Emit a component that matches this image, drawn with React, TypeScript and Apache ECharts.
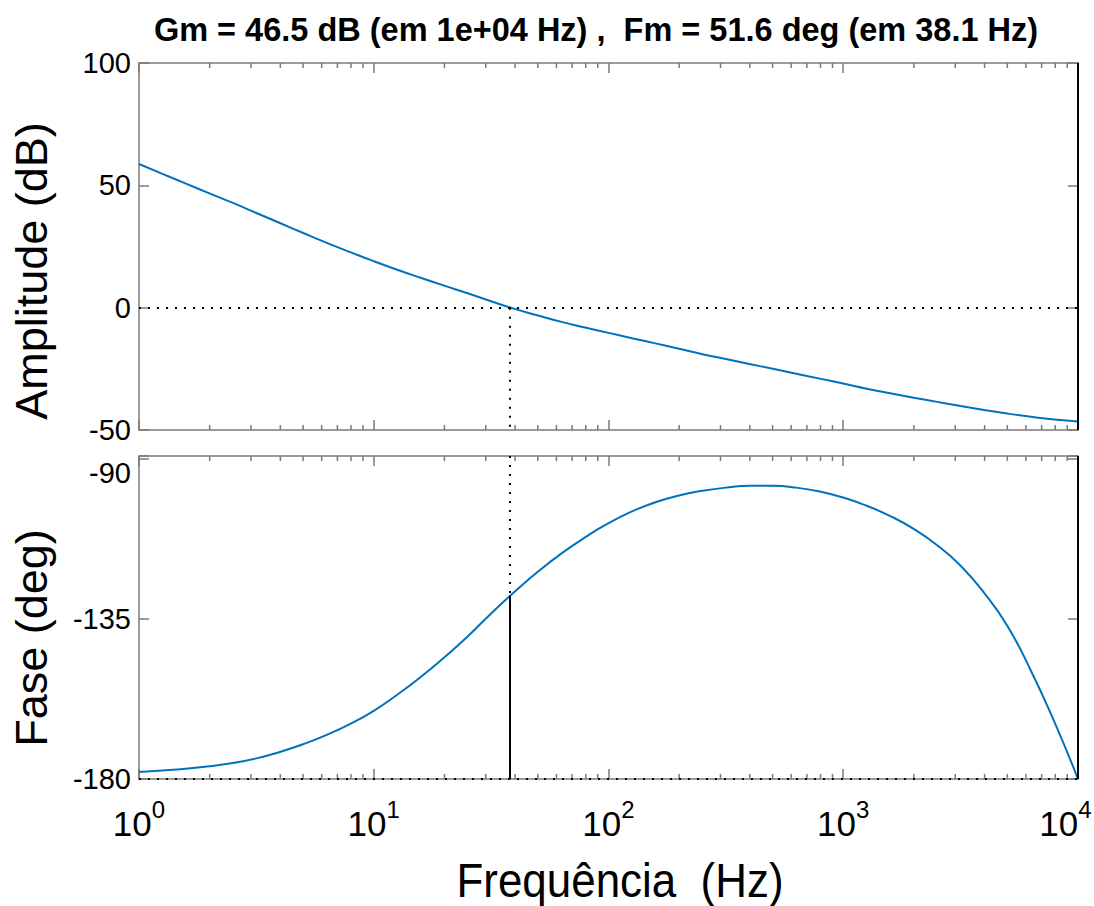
import React, { useEffect, useRef } from "react";
import * as echarts from "echarts";

// Frequency grid as log10(Hz)
const freqExp = [0, 0.1, 0.2, 0.3, 0.4, 0.5, 0.6, 0.7, 0.8, 0.9, 1.0, 1.1, 1.2, 1.3, 1.4, 1.5, 1.6, 1.7, 1.8, 1.9, 2.0, 2.1, 2.2, 2.3, 2.4, 2.5, 2.6, 2.7, 2.8, 2.9, 3.0, 3.1, 3.2, 3.3, 3.4, 3.5, 3.6, 3.7, 3.8, 3.9, 4.0];
// Magnitude (dB)
const magDb = [58.7, 54.7, 50.7, 46.7, 42.8, 38.7, 34.6, 30.5, 26.5, 22.7, 19.0, 15.5, 12.2, 9.0, 5.9, 2.6, -0.5, -3.2, -5.8, -8.1, -10.3, -12.5, -14.6, -16.8, -19.0, -21.0, -23.0, -25.0, -27.0, -29.0, -31.0, -33.1, -35.0, -36.8, -38.5, -40.2, -41.8, -43.3, -44.6, -45.7, -46.5];
// Phase (deg)
const phaseDeg = [-178.0, -177.6, -177.1, -176.4, -175.5, -174.2, -172.4, -170.2, -167.6, -164.5, -160.8, -156.3, -151.3, -145.8, -139.9, -133.4, -127.3, -121.6, -116.5, -112.0, -108.0, -104.7, -102.1, -100.2, -98.9, -98.0, -97.5, -97.5, -98.0, -99.1, -100.8, -103.1, -106.0, -109.6, -114.2, -120.0, -127.6, -137.0, -149.6, -164.0, -180.0];

// Margins
const gmDb = 46.5;
const gmFreq = 1e4;
const pmDeg = 51.6;
const pmFreq = 38.1;

// Axes
const freqMin = 1;
const freqMax = 1e4;
const magMin = -50;
const magMax = 100;
const magStep = 50;
const phaseMin = -180;
const phaseMax = -89.1;
const phaseStep = 45;
const minorFreqs: number[] = [];
[1, 10, 100, 1000].forEach((d) => {
  for (let k = 2; k <= 9; k++) minorFreqs.push(k * d);
});

const titleText = `Gm = ${gmDb} dB (em 1e+04 Hz) ,  Fm = ${pmDeg} deg (em ${pmFreq} Hz)`;

const BLUE = "#0072BD";
const AXIS = "#7a7a7a";
const FONT = "'Liberation Sans', Arial, sans-serif";

export default function App() {
  const ref = useRef<HTMLDivElement>(null);
  useEffect(() => {
    if (!ref.current) return;
    const chart = echarts.init(ref.current, null, { renderer: "svg" });
    const freqs = freqExp.map((e) => Math.pow(10, e));
    const magData = freqs.map((f, i) => [f, magDb[i]]);
    const phaseData = freqs.map((f, i) => [f, phaseDeg[i]]);
    const pmPhase = -180 + pmDeg;

    const grids = [
      { left: 139, top: 63, width: 939, height: 367, outerBoundsMode: "none", containLabel: false },
      { left: 139, top: 456, width: 939, height: 323, outerBoundsMode: "none", containLabel: false },
    ];

    const xBase = (gridIndex: number, position: string, showLabel: boolean) => ({
      type: "log",
      logBase: 10,
      gridIndex,
      position,
      min: freqMin,
      max: freqMax,
      axisLine: { show: true, onZero: false, lineStyle: { color: AXIS, width: 1.5 } },
      axisTick: { show: true, inside: true, length: 10, lineStyle: { color: AXIS, width: 1.5 } },
      splitLine: { show: false },
      axisLabel: showLabel
        ? {
            show: true,
            margin: 18,
            hideOverlap: false,
            formatter: (v: number) => {
              const e = Math.round(Math.log10(v));
              // last label kept inside the page, as in the reference
              return v >= freqMax ? `{pad|}{b|10}{s|${e}}` : `{b|10}{s|${e}}`;
            },
            rich: {
              b: { fontSize: 35, fontFamily: FONT, color: "#000", verticalAlign: "bottom", lineHeight: 44 },
              s: { fontSize: 24, fontFamily: FONT, color: "#000", verticalAlign: "top", lineHeight: 44 },
              pad: { width: 0, padding: [0, 0, 0, 0] },
            },
          }
        : { show: false },
    });

    const yBase = (gridIndex: number, position: string, min: number, max: number, interval: number, showLabel: boolean) => ({
      type: "value",
      gridIndex,
      position,
      min,
      max,
      interval,
      axisLine: { show: true, onZero: false, lineStyle: { color: AXIS, width: 1.5 } },
      axisTick: { show: true, inside: true, length: 10, lineStyle: { color: AXIS, width: 1.5 } },
      splitLine: { show: false },
      axisLabel: showLabel
        ? {
            show: true,
            margin: 8,
            fontSize: 29,
            fontFamily: FONT,
            color: "#000",
            showMaxLabel: true,
            formatter: (v: number) => {
              if (Math.abs(v / interval - Math.round(v / interval)) > 1e-6) return "";
              // MATLAB draws the top phase label slightly below its tick
              if (max - v < interval / 2 && max % interval !== 0) return `{low|${v}}`;
              return String(v);
            },
            rich: {
              low: { fontSize: 29, fontFamily: FONT, color: "#000", padding: [28, 0, 0, 0] },
            },
          }
        : { show: false },
    });

    const dotted = { color: "#000", width: 2, type: [2, 7] as any, cap: "butt" };
    const solid = { color: "#000", width: 2, type: "solid" };

    const minorTickSeries = (gi: number, yMin: number, yMax: number) => ({
      type: "custom",
      xAxisIndex: gi * 2,
      yAxisIndex: gi * 2,
      silent: true,
      z: 1,
      data: minorFreqs.map((f) => [f]),
      renderItem: (params: any, api: any) => {
        const f = api.value(0);
        const b = api.coord([f, yMin]);
        const t = api.coord([f, yMax]);
        const st = { stroke: AXIS, lineWidth: 1.5 };
        return {
          type: "group",
          children: [
            { type: "line", shape: { x1: b[0], y1: b[1], x2: b[0], y2: b[1] - 5 }, style: st },
            { type: "line", shape: { x1: t[0], y1: t[1], x2: t[0], y2: t[1] + 5 }, style: st },
          ],
        };
      },
    });

    const option: any = {
      animation: false,
      backgroundColor: "#fff",
      grid: grids,
      xAxis: [xBase(0, "bottom", false), xBase(0, "top", false), xBase(1, "bottom", true), xBase(1, "top", false)],
      yAxis: [
        yBase(0, "left", magMin, magMax, magStep, true),
        yBase(0, "right", magMin, magMax, magStep, false),
        yBase(1, "left", phaseMin, phaseMax, phaseStep, true),
        yBase(1, "right", phaseMin, phaseMax, phaseStep, false),
      ],
      graphic: [
        {
          type: "text",
          x: 596,
          y: 30,
          style: { text: titleText, font: `bold 32.5px ${FONT}`, fill: "#000", align: "center", verticalAlign: "middle" },
        },
        {
          type: "text",
          x: 31,
          y: 271,
          rotation: Math.PI / 2,
          style: { text: "Amplitude (dB)", font: `45px ${FONT}`, fill: "#000", align: "center", verticalAlign: "middle" },
        },
        {
          type: "text",
          x: 31,
          y: 638,
          rotation: Math.PI / 2,
          style: { text: "Fase (deg)", font: `45px ${FONT}`, fill: "#000", align: "center", verticalAlign: "middle" },
        },
        {
          type: "text",
          x: 620,
          y: 880,
          scaleX: 0.915,
          style: { text: "Frequência  (Hz)", font: `48px ${FONT}`, fill: "#000", align: "center", verticalAlign: "middle" },
        },
      ],
      series: [
        minorTickSeries(0, magMin, magMax),
        minorTickSeries(1, phaseMin, phaseMax),
        {
          type: "line",
          name: "Amplitude",
          xAxisIndex: 0,
          yAxisIndex: 0,
          data: magData,
          showSymbol: false,
          smooth: 0.5,
          lineStyle: { color: BLUE, width: 2 },
          z: 3,
          markLine: {
            silent: true,
            symbol: "none",
            label: { show: false },
            data: [
              [{ coord: [freqMin, 0], lineStyle: dotted }, { coord: [freqMax, 0] }],
              [{ coord: [pmFreq, 0], lineStyle: dotted }, { coord: [pmFreq, magMin] }],
              [{ coord: [gmFreq, magMax], lineStyle: solid }, { coord: [gmFreq, magMin] }],
            ],
          },
        },
        {
          type: "line",
          name: "Fase",
          xAxisIndex: 2,
          yAxisIndex: 2,
          data: phaseData,
          showSymbol: false,
          smooth: 0.5,
          lineStyle: { color: BLUE, width: 2 },
          z: 3,
          markLine: {
            silent: true,
            symbol: "none",
            label: { show: false },
            data: [
              [{ coord: [freqMin, -180], lineStyle: dotted }, { coord: [freqMax, -180] }],
              [{ coord: [pmFreq, phaseMax], lineStyle: dotted }, { coord: [pmFreq, pmPhase] }],
              [{ coord: [pmFreq, pmPhase], lineStyle: solid }, { coord: [pmFreq, phaseMin] }],
              [{ coord: [gmFreq, phaseMax], lineStyle: solid }, { coord: [gmFreq, phaseMin] }],
            ],
          },
        },
      ],
    };
    option.xAxis[2].axisLabel.rich.pad = { width: 1, padding: [0, 24, 0, 0] };
    option.xAxis[2].axisLabel.formatter = (v: number) => {
      const e = Math.round(Math.log10(v));
      return v >= freqMax ? `{b|10}{s|${e}}{pad|}` : `{b|10}{s|${e}}`;
    };
    chart.setOption(option);
    return () => chart.dispose();
  }, []);
  return (
    <div
      ref={ref}
      style={{ position: "fixed", left: 0, top: 0, width: 1094, height: 906, background: "#fff" }}
    />
  );
}
